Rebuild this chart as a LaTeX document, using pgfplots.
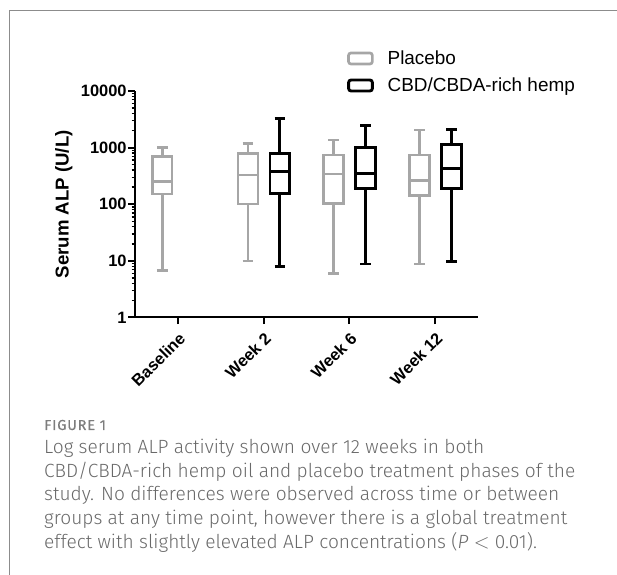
\documentclass[border=0pt]{standalone}
\usepackage{pgfplots}
\pgfplotsset{compat=1.18}
\usepgfplotslibrary{statistics}
\usepackage{fontspec}
\setmainfont{Liberation Sans}
\newfontfamily\capfont{Fira Sans Light}
\newfontfamily\capheadfont{Fira Sans}[LetterSpace=6, FakeBold=0.5]

\definecolor{pgray}{RGB}{166,166,166}
\definecolor{framegray}{RGB}{140,140,140}
\definecolor{capgray}{RGB}{105,105,105}
\definecolor{headgray}{RGB}{125,125,125}

\begin{document}
\begin{tikzpicture}[x=1bp,y=1bp]
\useasboundingbox (0,0) rectangle (617,575);
\draw[framegray, line width=1.3bp] (9.3,0) -- (9.3,564.3) -- (617,564.3);

\begin{axis}[
    at={(135bp,257.5bp)}, anchor=south west,
    scale only axis, width=343bp, height=226.5bp,
    clip=false,
    ymode=log, ymin=1, ymax=10000,
    xmin=-0.5, xmax=3.5,
    xtick={0,1,2,3},
    xticklabels={Baseline,Week 2,Week 6,Week 12},
    ytick={1,10,100,1000,10000},
    yticklabels={1,10,100,1000,10000},
    axis lines*=left,
    axis line style={line width=2bp},
    tick align=outside,
    major tick length=6.7bp, minor tick length=3.4bp,
    every tick/.style={black, line width=2bp},
    every minor tick/.style={black, line width=1.4bp},
    tick label style={font=\bfseries\fontsize{16.5}{19}\selectfont},
    yticklabel style={inner sep=1.5bp},
    x tick label style={yshift=-7bp, rotate=45, anchor=north east, inner sep=0pt},
    ylabel={Serum ALP (U/L)},
    ylabel style={font=\bfseries\fontsize{18.7}{22}\selectfont, at={(axis description cs:-0.2076,0.5)}, anchor=center},
    boxplot/draw direction=y,
    legend style={draw=none, fill=none, at={(axis description cs:0.618,1.178)}, anchor=north west,
        font=\fontsize{19}{22}\selectfont, row sep=11.8bp, inner sep=0pt, nodes={inner sep=0pt, anchor=west}},
    legend cell align=left,
]

% Placebo
\addplot[forget plot, draw=pgray, line width=2.7bp, boxplot prepared={draw position=-0.183,
    lower whisker=6.7, lower quartile=152, median=255, upper quartile=693, upper whisker=1000,
    box extend=0.232, whisker extend=0.124}] coordinates {};
\addplot[forget plot, draw=pgray, line width=2.7bp, boxplot prepared={draw position=0.817,
    lower whisker=10, lower quartile=101, median=329, upper quartile=796, upper whisker=1196,
    box extend=0.232, whisker extend=0.124}] coordinates {};
\addplot[forget plot, draw=pgray, line width=2.7bp, boxplot prepared={draw position=1.817,
    lower whisker=5.9, lower quartile=104, median=343, upper quartile=743, upper whisker=1368,
    box extend=0.232, whisker extend=0.124}] coordinates {};
\addplot[forget plot, draw=pgray, line width=2.7bp, boxplot prepared={draw position=2.817,
    lower whisker=8.8, lower quartile=142, median=261, upper quartile=743, upper whisker=2055,
    box extend=0.232, whisker extend=0.124}] coordinates {};

% CBD/CBDA-rich hemp
\addplot[forget plot, draw=black, line width=2.9bp, boxplot prepared={draw position=1.19,
    lower whisker=7.9, lower quartile=152, median=380, upper quartile=796, upper whisker=3306,
    box extend=0.232, whisker extend=0.124}] coordinates {};
\addplot[forget plot, draw=black, line width=2.9bp, boxplot prepared={draw position=2.19,
    lower whisker=8.8, lower quartile=192, median=350, upper quartile=1016, upper whisker=2447,
    box extend=0.232, whisker extend=0.124}] coordinates {};
\addplot[forget plot, draw=black, line width=2.9bp, boxplot prepared={draw position=3.19,
    lower whisker=9.8, lower quartile=192, median=433, upper quartile=1148, upper whisker=2055,
    box extend=0.232, whisker extend=0.124}] coordinates {};

\addlegendimage{draw=pgray, line width=2.7bp, legend image code/.code={
    \draw[draw=pgray, line width=2.7bp, rounded corners=2.5bp] (1.35bp,-5.5bp) rectangle (25.2bp,5.5bp);
    \path (39bp,0bp);}}
\addlegendentry{Placebo}
\addlegendimage{draw=black, line width=2.9bp, legend image code/.code={
    \draw[draw=black, line width=2.9bp, rounded corners=2.5bp] (1.45bp,-5.5bp) rectangle (25.2bp,5.5bp);
    \path (39bp,0bp);}}
\addlegendentry{CBD/CBDA-rich hemp}
\end{axis}

\node[anchor=base west, inner sep=0pt, text=headgray, font=\capheadfont\fontsize{14.5}{16}\selectfont] at (44,145) {FIGURE 1};
\begin{scope}[every node/.style={anchor=base west, inner sep=0pt, text=capgray, font=\capfont\fontsize{19.2}{22}\selectfont}]
\node at (44,121.5) {Log serum ALP activity shown over 12 weeks in both};
\node at (44,97.8) {CBD/CBDA-rich hemp oil and placebo treatment phases of the};
\node at (44,74.1) {study. No differences were observed across time or between};
\node at (44,50.4) {groups at any time point, however there is a global treatment};
\node at (44,26.7) {effect with slightly elevated ALP concentrations (\textit{P} $<$ 0.01).};
\end{scope}
\end{tikzpicture}
\end{document}
